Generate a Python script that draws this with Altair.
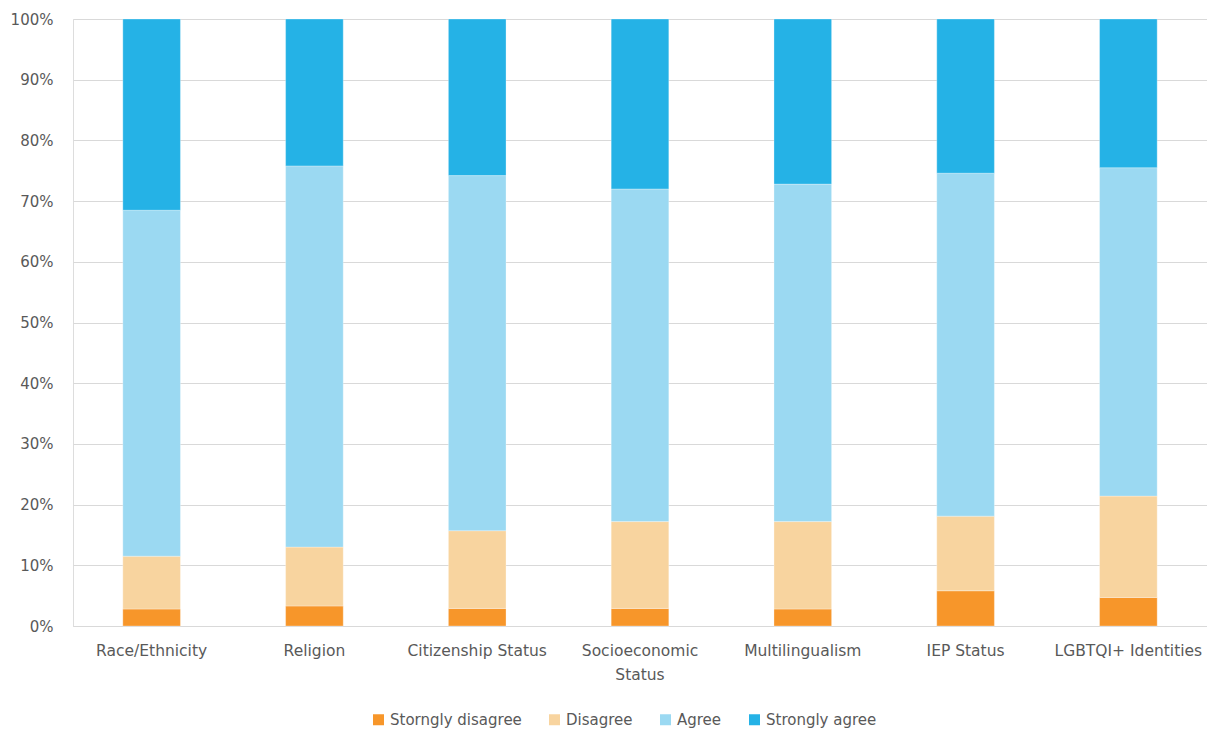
import altair as alt
import pandas as pd

# Survey categories (x axis)
categories = [
    "Race/Ethnicity",
    "Religion",
    "Citizenship Status",
    "Socioeconomic Status",
    "Multilingualism",
    "IEP Status",
    "LGBTQI+ Identities",
]

# Response shares per category, in percent
strongly_disagree = [2.8, 3.3, 2.9, 2.9, 2.8, 5.8, 4.7]
disagree = [8.7, 9.7, 12.8, 14.3, 14.4, 12.3, 16.7]
agree = [57.0, 62.8, 58.5, 54.8, 55.6, 56.5, 54.1]
strongly_agree = [31.5, 24.2, 25.8, 28.0, 27.2, 25.4, 24.5]

responses = ["Storngly disagree", "Disagree", "Agree", "Strongly agree"]
colors = ["#F7962A", "#F8D49F", "#9BD9F2", "#25B2E6"]
y_ticks = list(range(0, 101, 10))

series = [strongly_disagree, disagree, agree, strongly_agree]
rows = []
for r_idx, (resp, vals) in enumerate(zip(responses, series)):
    for cat, v in zip(categories, vals):
        rows.append({"category": cat, "response": resp, "order": r_idx, "value": v})
df = pd.DataFrame(rows)

font = "DejaVu Sans"
text_color = "#595959"
grid_color = "#D9D9D9"

bars = alt.Chart(df).mark_bar(
    stroke="white", strokeWidth=0.6, strokeOpacity=0.5
).encode(
    x=alt.X(
        "category:N",
        sort=categories,
        title=None,
        scale=alt.Scale(paddingInner=0.646, paddingOuter=0.306),
        axis=alt.Axis(
            labelAngle=0,
            labelFont=font,
            labelFontSize=15.5,
            labelColor=text_color,
            labelPadding=17,
            labelLineHeight=24,
            labelLimit=400,
            labelOverlap=False,
            labelExpr="datum.label == 'Socioeconomic Status' ? ['Socioeconomic', 'Status'] : datum.label",
            ticks=False,
            domain=True,
            domainColor=grid_color,
            domainWidth=1,
            grid=False,
        ),
    ),
    y=alt.Y(
        "value:Q",
        stack="zero",
        title=None,
        scale=alt.Scale(domain=[0, 100], nice=False),
        axis=alt.Axis(
            values=y_ticks,
            labelExpr="datum.value + '%'",
            labelFont=font,
            labelFontSize=15,
            labelColor=text_color,
            labelPadding=20,
            ticks=False,
            domain=False,
            grid=True,
            gridColor=grid_color,
            gridWidth=1,
            minExtent=68,
            maxExtent=68,
        ),
    ),
    color=alt.Color(
        "response:N",
        scale=alt.Scale(domain=responses, range=colors),
        legend=alt.Legend(
            title=None,
            orient="none",
            direction="horizontal",
            legendX=298,
            legendY=693,
            symbolType="square",
            symbolSize=121,
            symbolStrokeWidth=0,
            labelFont=font,
            labelFontSize=15,
            labelColor=text_color,
            labelOffset=4,
            columnPadding=25,
            padding=0,
            labelLimit=300,
        ),
    ),
    order=alt.Order("order:Q", sort="ascending"),
)

chart = bars.properties(
    width=1134,
    height=607,
    padding={"left": 5, "top": 12, "right": 0, "bottom": 0},
).configure_view(stroke=None).configure(background="white")

chart.save("out.html", embed_options={"renderer": "svg", "actions": False})
